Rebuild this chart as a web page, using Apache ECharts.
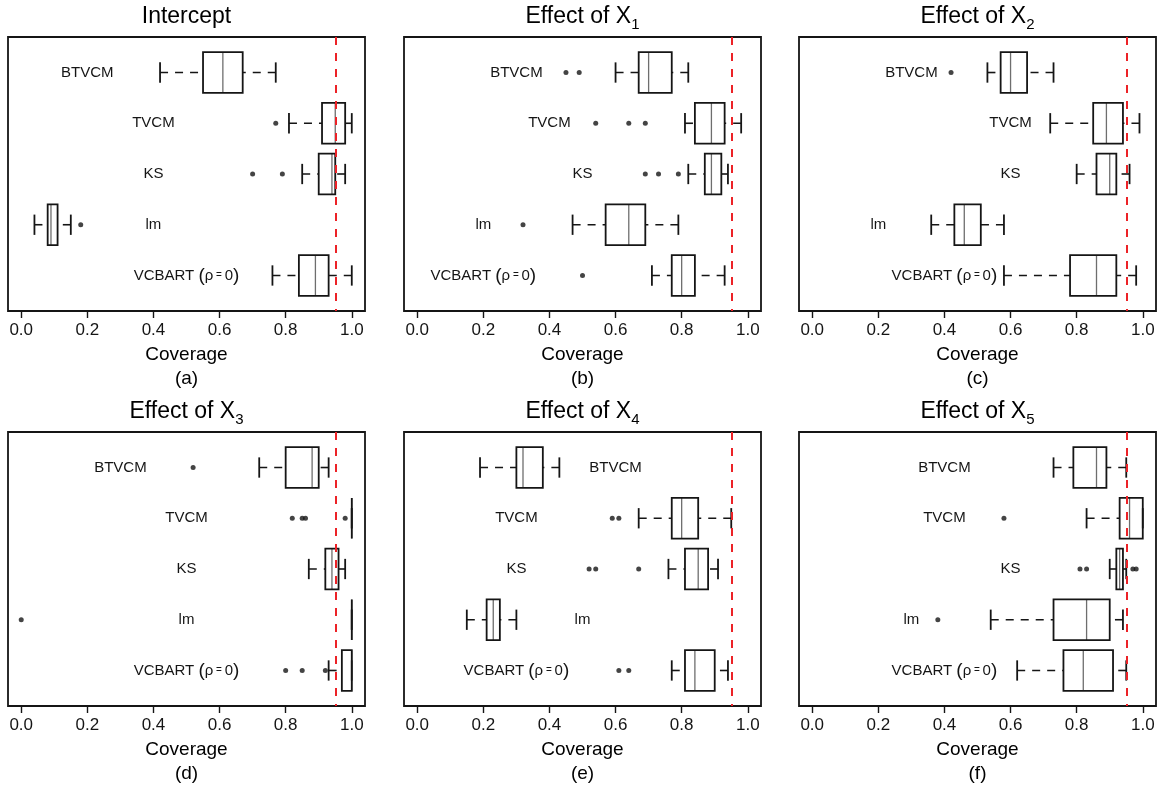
<!DOCTYPE html>
<html><head><meta charset="utf-8">
<script src="https://cdn.jsdelivr.net/npm/echarts@6/dist/echarts.min.js"></script>
<style>html,body{margin:0;padding:0;background:#fff}#chart{width:1163px;height:792px}</style>
</head><body><div id="chart"></div><script>
// ---------------- data ----------------
const methods = ['BTVCM', 'TVCM', 'KS', 'lm', 'VCBART (ρ = 0)'];
const panelTitles = ['Intercept', 'Effect of X|1', 'Effect of X|2', 'Effect of X|3', 'Effect of X|4', 'Effect of X|5'];
const panelTags = ['(a)', '(b)', '(c)', '(d)', '(e)', '(f)'];
const tickValues = [0, 0.2, 0.4, 0.6, 0.8, 1.0];
const nominal = 0.95;
const xName = 'Coverage';

// boxplot stats per method: [lower whisker, Q1, median, Q3, upper whisker]
const statsA = [[0.42,0.55,0.61,0.67,0.77],[0.81,0.91,0.95,0.98,1.00],[0.85,0.90,0.94,0.95,0.98],[0.04,0.08,0.09,0.11,0.15],[0.76,0.84,0.89,0.93,1.00]];
const outA   = [[],[0.77],[0.70,0.79],[0.18],[]];
const labelXA = [0.2,0.4,0.4,0.4,0.5];

const statsB = [[0.60,0.67,0.70,0.77,0.82],[0.81,0.84,0.89,0.93,0.98],[0.82,0.87,0.89,0.92,0.94],[0.47,0.57,0.64,0.69,0.79],[0.71,0.77,0.80,0.84,0.93]];
const outB   = [[0.45,0.49],[0.54,0.64,0.69],[0.69,0.73,0.79],[0.32],[0.50]];
const labelXB = [0.3,0.4,0.5,0.2,0.2];

const statsC = [[0.53,0.57,0.60,0.65,0.73],[0.72,0.85,0.89,0.94,0.99],[0.80,0.86,0.90,0.92,0.96],[0.36,0.43,0.46,0.51,0.58],[0.58,0.78,0.86,0.92,0.98]];
const outC   = [[0.42],[],[],[],[]];
const labelXC = [0.3,0.6,0.6,0.2,0.4];

const statsD = [[0.72,0.80,0.88,0.90,0.93],[1.00,1.00,1.00,1.00,1.00],[0.87,0.92,0.94,0.96,0.98],[1.00,1.00,1.00,1.00,1.00],[0.93,0.97,1.00,1.00,1.00]];
const outD   = [[0.52],[0.82,0.85,0.86,0.98],[],[0.00],[0.80,0.85,0.92]];
const labelXD = [0.3,0.5,0.5,0.5,0.5];

const statsE = [[0.19,0.30,0.32,0.38,0.43],[0.67,0.77,0.80,0.85,0.95],[0.76,0.81,0.85,0.88,0.91],[0.15,0.21,0.23,0.25,0.30],[0.77,0.81,0.84,0.90,0.94]];
const outE   = [[],[0.59,0.61],[0.52,0.54,0.67],[],[0.61,0.64]];
const labelXE = [0.6,0.3,0.3,0.5,0.3];

const statsF = [[0.73,0.79,0.86,0.89,0.95],[0.83,0.93,0.96,1.00,1.00],[0.90,0.92,0.93,0.94,0.95],[0.54,0.73,0.83,0.90,0.94],[0.62,0.76,0.82,0.91,0.95]];
const outF   = [[],[0.58],[0.81,0.83,0.97,0.98],[0.38],[]];
const labelXF = [0.4,0.4,0.6,0.3,0.4];

// ---------------- layout / style ----------------
const FONT = '"Liberation Sans", Arial, Helvetica, sans-serif';
const colLeft = [8, 404, 799];
const rowTop = [37, 432];
const gridW = 357, gridH = 274;
const BOX_W = 0.8, STAPLE = 0.5;
const INK = '#151515';

const allStats = [statsA, statsB, statsC, statsD, statsE, statsF];
const allOut = [outA, outB, outC, outD, outE, outF];
const allLabelX = [labelXA, labelXB, labelXC, labelXD, labelXE, labelXF];

const labelRich = {
  a: {fontSize: 15, fontFamily: FONT, color: INK},
  p: {fontSize: 19, fontFamily: FONT, color: INK},
  e: {fontSize: 10, fontFamily: FONT, color: INK}
};
function labelText(name) {
  if (name.indexOf('ρ') >= 0) return '{a|VCBART }{p|(}{a|ρ}{e| = }{a|0}{p|)}';
  return '{a|' + name + '}';
}

function renderBox(params, api) {
  const pos = api.value(0);
  const lo = api.value(1), q1 = api.value(2), md = api.value(3), q3 = api.value(4), hi = api.value(5);
  const lx = api.value(6);
  const c = x => api.coord([x, pos]);
  const half = api.size([0, BOX_W])[1] / 2;
  const capHalf = half * STAPLE;
  const pLo = c(lo), pQ1 = c(q1), pMd = c(md), pQ3 = c(q3), pHi = c(hi), pL = c(lx);
  const y = pLo[1];
  const whisk = {stroke: INK, lineWidth: 1.6, lineDash: [8, 7], fill: null};
  const solid = {stroke: INK, lineWidth: 1.8, fill: null};
  const line = (x1, y1, x2, y2, style) => ({type: 'line', shape: {x1, y1, x2, y2}, style});
  return {
    type: 'group',
    children: [
      line(pLo[0], y, pQ1[0], y, whisk),
      line(pHi[0], y, pQ3[0], y, whisk),
      line(pLo[0], y - capHalf, pLo[0], y + capHalf, solid),
      line(pHi[0], y - capHalf, pHi[0], y + capHalf, solid),
      line(pMd[0], y - half, pMd[0], y + half, {stroke: '#6e6e6e', lineWidth: 1.3}),
      {type: 'rect', shape: {x: pQ1[0], y: y - half, width: pQ3[0] - pQ1[0], height: 2 * half},
       style: {stroke: INK, lineWidth: 1.8, fill: null}},
      {type: 'text', x: pL[0], y: y,
       style: {text: labelText(methods[params.dataIndex]), rich: labelRich, font: '15px ' + FONT,
               fill: INK, align: 'center', verticalAlign: 'middle', textAlign: 'center', textVerticalAlign: 'middle'}}
    ]
  };
}

const grids = [], xAxes = [], yAxes = [], series = [], graphics = [];
for (let k = 0; k < 6; k++) {
  const left = colLeft[k % 3], top = rowTop[Math.floor(k / 3)];
  grids.push({left, top, width: gridW, height: gridH, show: true, borderColor: INK, borderWidth: 1.8, backgroundColor: 'transparent', containLabel: false});
  xAxes.push({
    type: 'value', gridIndex: k, min: -0.04, max: 1.04,
    axisLine: {show: false}, splitLine: {show: false},
    axisTick: {show: true, inside: false, length: 7, lineStyle: {color: INK, width: 1.4}, customValues: tickValues},
    axisLabel: {show: true, margin: 11, fontSize: 17, fontFamily: FONT, color: INK, customValues: tickValues, formatter: v => v.toFixed(1)}
  });
  yAxes.push({type: 'value', gridIndex: k, min: 0.3, max: 5.7, inverse: true, show: false});
  const data = allStats[k].map((s, i) => [i + 1].concat(s, [allLabelX[k][i]]));
  series.push({
    type: 'custom', xAxisIndex: k, yAxisIndex: k, renderItem: renderBox, data,
    encode: {x: [1, 2, 3, 4, 5], y: 0}, clip: false, silent: true, z: 2,
    markLine: {silent: true, symbol: 'none', label: {show: false}, animation: false, z: 5,
      lineStyle: {color: '#ec2227', type: [8, 8], width: 2}, data: [{xAxis: nominal}]}
  });
  const pts = [];
  allOut[k].forEach((arr, i) => arr.forEach(v => pts.push([v, i + 1])));
  series.push({type: 'scatter', xAxisIndex: k, yAxisIndex: k, data: pts, symbol: 'circle', symbolSize: 5,
    itemStyle: {color: INK}, silent: true, z: 3, clip: false});

  const cx = left + gridW / 2;
  const t = panelTitles[k].split('|');
  const titleText = t.length > 1 ? '{m|' + t[0] + '}{s|' + t[1] + '}' : '{m|' + t[0] + '}';
  graphics.push({type: 'text', x: cx, y: top - 20, style: {text: titleText, align: 'center', verticalAlign: 'middle', textAlign: 'center', textVerticalAlign: 'middle',
    font: '23px ' + FONT, fill: '#000',
    rich: {m: {fontSize: 23, fontFamily: FONT, lineHeight: 30, color: '#000'}, s: {fontSize: 15, fontFamily: FONT, lineHeight: 15, verticalAlign: 'bottom', color: '#000'}}}});
  graphics.push({type: 'text', x: cx, y: top + gridH + 44, style: {text: xName, font: '19px ' + FONT, fill: '#000', align: 'center', verticalAlign: 'middle', textAlign: 'center', textVerticalAlign: 'middle'}});
  graphics.push({type: 'text', x: cx, y: top + gridH + 68, style: {text: panelTags[k], font: '19px ' + FONT, fill: '#000', align: 'center', verticalAlign: 'middle', textAlign: 'center', textVerticalAlign: 'middle'}});
}

const chart = echarts.init(document.getElementById('chart'), null, {renderer: 'canvas'});
chart.setOption({
  animation: false,
  backgroundColor: '#fff',
  grid: grids, xAxis: xAxes, yAxis: yAxes, series, graphic: graphics
});
</script></body></html>
